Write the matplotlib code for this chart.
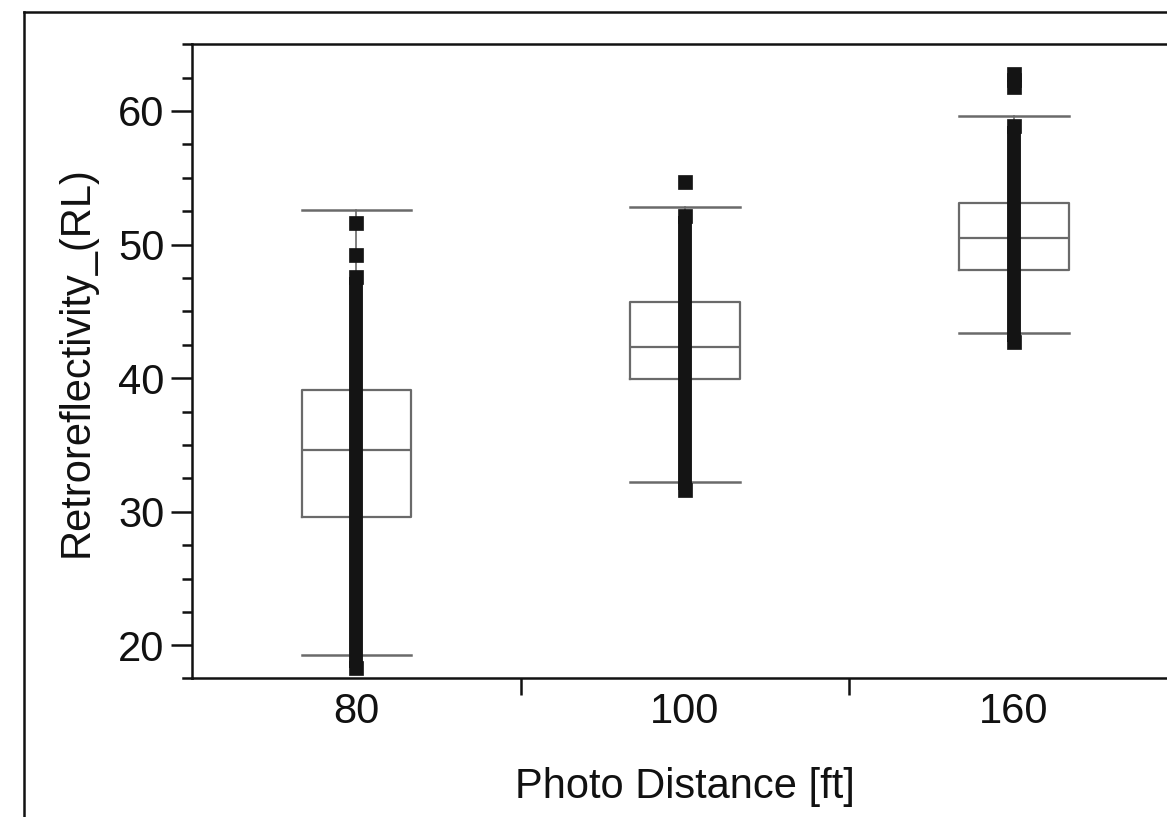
import matplotlib
matplotlib.use("Agg")
import matplotlib.pyplot as plt
from matplotlib.lines import Line2D
from matplotlib.ticker import MultipleLocator, FixedLocator

# ---- data ----
categories = ["80", "100", "160"]
q1 = [29.6, 39.9, 48.1]
median = [34.6, 42.3, 50.5]
q3 = [39.1, 45.7, 53.1]
whisker_low = [19.3, 32.2, 43.4]
whisker_high = [52.6, 52.8, 59.6]
# dense column of observations (continuous stack of points)
column_low = [18.3, 31.6, 42.7]
column_high = [47.6, 52.1, 58.9]
# separated individual points
extra_points = [[49.2, 51.6], [54.7], [61.8, 62.3, 62.8]]

plt.rcParams["font.family"] = ["Liberation Sans", "DejaVu Sans"]

fig = plt.figure(figsize=(11.67, 8.17), dpi=100)
ax = fig.add_axes([0.1645, 0.170, 0.845, 0.776])

pos = list(range(len(categories)))
stats = []
for i in pos:
    stats.append(dict(med=median[i], q1=q1[i], q3=q3[i],
                      whislo=whisker_low[i], whishi=whisker_high[i], fliers=[]))

box_col = "#6a6a6a"
ax.bxp(stats, positions=pos, widths=1/3, showfliers=False,
       boxprops=dict(color=box_col, lw=1.6),
       medianprops=dict(color=box_col, lw=1.6),
       whiskerprops=dict(color=box_col, lw=1.2),
       capprops=dict(color=box_col, lw=1.8),
       capwidths=1/3, zorder=2)

pt_col = "#141414"
msize = 10
ax.vlines(pos, column_low, column_high, colors=pt_col, lw=msize, zorder=3)
for i in pos:
    ax.plot([i, i], [column_low[i], column_high[i]], ls="none", marker="s",
            ms=msize, color=pt_col, mec=pt_col, mew=0.5, zorder=3)
    ax.plot([i] * len(extra_points[i]), extra_points[i], ls="none", marker="s",
            ms=msize, color=pt_col, mec=pt_col, mew=0.5, zorder=3)

ax.set_xlim(-0.5, 2.5)
ax.set_ylim(17.55, 65.0)

ax.spines["right"].set_visible(False)
for s in ["left", "bottom", "top"]:
    ax.spines[s].set_linewidth(1.8)
    ax.spines[s].set_color("#111111")

ax.yaxis.set_major_locator(MultipleLocator(10))
ax.yaxis.set_minor_locator(MultipleLocator(2.5))
ax.tick_params(axis="y", which="major", length=15, width=1.8, labelsize=30, pad=5, colors="#111111")
ax.tick_params(axis="y", which="minor", length=7, width=1.8, colors="#111111")

ax.set_xticks(pos)
ax.set_xticklabels(categories)
ax.xaxis.set_minor_locator(FixedLocator([0.5, 1.5]))
ax.tick_params(axis="x", which="major", length=0, labelsize=30, pad=10, colors="#111111")
ax.tick_params(axis="x", which="minor", length=12, width=1.8, colors="#111111")

ax.set_xlabel("Photo Distance [ft]", fontsize=30, labelpad=25, color="#111111")
ax.set_ylabel("Retroreflectivity_(RL)", fontsize=30, labelpad=15, color="#111111")

# small overhang of bottom spine to the left
ax.add_line(Line2D([-0.009, 0], [0, 0], transform=ax.transAxes, color="#111111",
                   lw=1.8, clip_on=False))

# outer frame (top and left visible)
W, H = 1167, 817
fig.add_artist(Line2D([24 / W, 24 / W], [0, 1 - 12 / H], color="#111111", lw=1.8))
fig.add_artist(Line2D([24 / W, 1], [1 - 12 / H, 1 - 12 / H], color="#111111", lw=1.8))

fig.savefig("out.png", dpi=100)
